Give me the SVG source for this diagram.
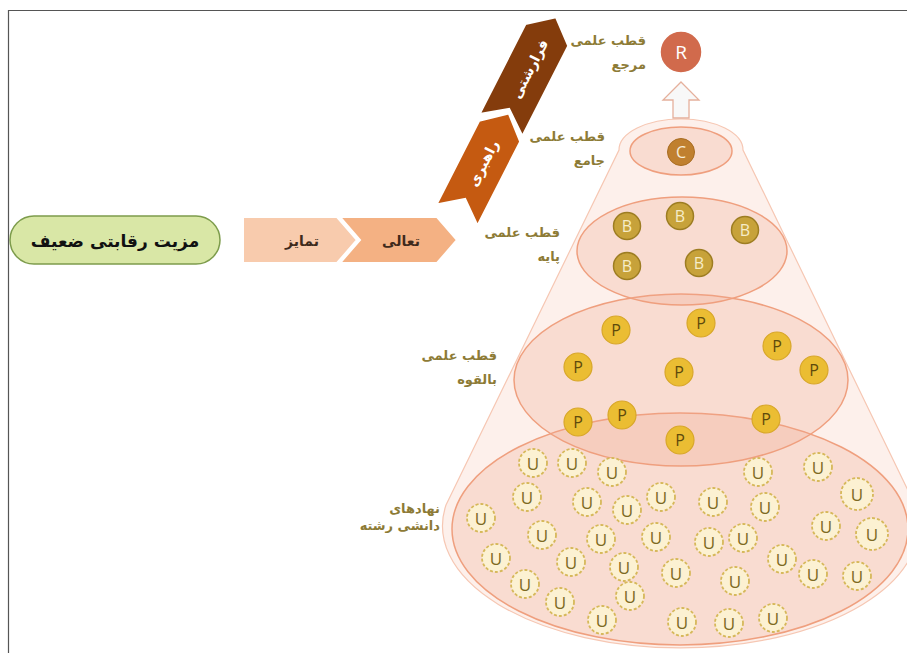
<svg xmlns="http://www.w3.org/2000/svg" width="907" height="653" viewBox="0 0 907 653">
<defs>
<style>
.ar{font-family:'DejaVu Sans','Noto Sans',sans-serif;font-weight:bold}
.lbl{font-size:13px;fill:#8d7b36;text-anchor:end}
.lt{font-family:'Open Sans','Liberation Sans',sans-serif;text-anchor:middle;dominant-baseline:central}
.ell{fill:#f0a88c;fill-opacity:0.27;stroke:#ef9f7e;stroke-width:1.5}
.u circle{fill:#fcf1d2;stroke:#d6b85a;stroke-width:1.8;stroke-dasharray:3 2}
.u text{font-size:17px;fill:#7d6a22}
.p circle{fill:#ebbd33;stroke:#d8a72a;stroke-width:1.2}
.p text{font-size:16px;fill:#5e4a0c}
.b circle{fill:#c7a23a;stroke:#9d7d22;stroke-width:1.5}
.b text{font-size:16px;fill:#f6ecc8}
</style>
</defs>
<rect width="907" height="653" fill="#ffffff"/>
<path d="M8.5,653 V10.5 H907" fill="none" stroke="#555" stroke-width="1.2"/>

<g id="cone">
<path d="M619,150 A62,31 0 0 1 743,150 L915,505 A238,122 0 1 1 446,505 Z" fill="#fdf0eb" stroke="#f6c7b3" stroke-width="1.2"/>
<ellipse class="ell" cx="680" cy="529" rx="228" ry="116"/>
<ellipse class="ell" cx="681" cy="380" rx="167" ry="86"/>
<ellipse class="ell" cx="682" cy="251" rx="105" ry="54"/>
<ellipse class="ell" cx="681" cy="151" rx="51" ry="24"/>
</g>

<g id="connectors">
<path d="M681,82 L699,100 L689,100 L689,118 L673,118 L673,100 L663,100 Z" fill="#f8f8f8" stroke="#e5b09c" stroke-width="1.3"/>
</g>

<g id="node-R">
<circle cx="681" cy="52" r="21" fill="#d16a4c" stroke="#ffffff" stroke-width="1.5"/>
<text class="lt" x="681" y="52" font-size="19" fill="#ffffff">R</text>
</g>
<g id="node-C">
<circle cx="681" cy="152" r="13.5" fill="#c0802f" stroke="#a86c22" stroke-width="1"/>
<text class="lt" x="681" y="152" font-size="16" fill="#f7ecd6">C</text>
</g>

<g id="nodes-B">
<g class="b" id="b1"><circle cx="627" cy="226" r="13.5"/><text class="lt" x="627" y="226">B</text></g>
<g class="b" id="b2"><circle cx="680" cy="216" r="13.5"/><text class="lt" x="680" y="216">B</text></g>
<g class="b" id="b3"><circle cx="745" cy="230" r="13.5"/><text class="lt" x="745" y="230">B</text></g>
<g class="b" id="b4"><circle cx="627" cy="266" r="13.5"/><text class="lt" x="627" y="266">B</text></g>
<g class="b" id="b5"><circle cx="699" cy="263" r="13.5"/><text class="lt" x="699" y="263">B</text></g>
</g>

<g id="nodes-P">
<g class="p" id="p1"><circle cx="616" cy="330" r="14"/><text class="lt" x="616" y="330">P</text></g>
<g class="p" id="p2"><circle cx="701" cy="323" r="14"/><text class="lt" x="701" y="323">P</text></g>
<g class="p" id="p3"><circle cx="777" cy="346" r="14"/><text class="lt" x="777" y="346">P</text></g>
<g class="p" id="p4"><circle cx="578" cy="367" r="14"/><text class="lt" x="578" y="367">P</text></g>
<g class="p" id="p5"><circle cx="679" cy="372" r="14"/><text class="lt" x="679" y="372">P</text></g>
<g class="p" id="p6"><circle cx="814" cy="370" r="14"/><text class="lt" x="814" y="370">P</text></g>
<g class="p" id="p7"><circle cx="578" cy="422" r="14"/><text class="lt" x="578" y="422">P</text></g>
<g class="p" id="p8"><circle cx="622" cy="415" r="14"/><text class="lt" x="622" y="415">P</text></g>
<g class="p" id="p9"><circle cx="766" cy="419" r="14"/><text class="lt" x="766" y="419">P</text></g>
<g class="p" id="p10"><circle cx="680" cy="440" r="14"/><text class="lt" x="680" y="440">P</text></g>
</g>

<g id="nodes-U">
<g class="u" id="u1"><circle cx="533" cy="463" r="14"/><text class="lt" x="533" y="463">U</text></g>
<g class="u" id="u2"><circle cx="572" cy="463" r="14"/><text class="lt" x="572" y="463">U</text></g>
<g class="u" id="u3"><circle cx="612" cy="472" r="14"/><text class="lt" x="612" y="472">U</text></g>
<g class="u" id="u4"><circle cx="758" cy="472" r="14"/><text class="lt" x="758" y="472">U</text></g>
<g class="u" id="u5"><circle cx="818" cy="467" r="14"/><text class="lt" x="818" y="467">U</text></g>
<g class="u" id="u6"><circle cx="527" cy="497" r="14"/><text class="lt" x="527" y="497">U</text></g>
<g class="u" id="u7"><circle cx="587" cy="502" r="14"/><text class="lt" x="587" y="502">U</text></g>
<g class="u" id="u8"><circle cx="627" cy="510" r="14"/><text class="lt" x="627" y="510">U</text></g>
<g class="u" id="u9"><circle cx="661" cy="497" r="14"/><text class="lt" x="661" y="497">U</text></g>
<g class="u" id="u10"><circle cx="713" cy="502" r="14"/><text class="lt" x="713" y="502">U</text></g>
<g class="u" id="u11"><circle cx="765" cy="507" r="14"/><text class="lt" x="765" y="507">U</text></g>
<g class="u" id="u12"><circle cx="857" cy="494" r="16"/><text class="lt" x="857" y="494">U</text></g>
<g class="u" id="u13"><circle cx="481" cy="518" r="14"/><text class="lt" x="481" y="518">U</text></g>
<g class="u" id="u14"><circle cx="542" cy="535" r="14"/><text class="lt" x="542" y="535">U</text></g>
<g class="u" id="u15"><circle cx="601" cy="539" r="14"/><text class="lt" x="601" y="539">U</text></g>
<g class="u" id="u16"><circle cx="656" cy="537" r="14"/><text class="lt" x="656" y="537">U</text></g>
<g class="u" id="u17"><circle cx="709" cy="542" r="14"/><text class="lt" x="709" y="542">U</text></g>
<g class="u" id="u18"><circle cx="743" cy="538" r="14"/><text class="lt" x="743" y="538">U</text></g>
<g class="u" id="u19"><circle cx="826" cy="526" r="14"/><text class="lt" x="826" y="526">U</text></g>
<g class="u" id="u20"><circle cx="872" cy="534" r="16"/><text class="lt" x="872" y="534">U</text></g>
<g class="u" id="u21"><circle cx="496" cy="558" r="14"/><text class="lt" x="496" y="558">U</text></g>
<g class="u" id="u22"><circle cx="571" cy="562" r="14"/><text class="lt" x="571" y="562">U</text></g>
<g class="u" id="u23"><circle cx="624" cy="567" r="14"/><text class="lt" x="624" y="567">U</text></g>
<g class="u" id="u24"><circle cx="676" cy="573" r="14"/><text class="lt" x="676" y="573">U</text></g>
<g class="u" id="u25"><circle cx="735" cy="581" r="14"/><text class="lt" x="735" y="581">U</text></g>
<g class="u" id="u26"><circle cx="782" cy="559" r="14"/><text class="lt" x="782" y="559">U</text></g>
<g class="u" id="u27"><circle cx="813" cy="574" r="14"/><text class="lt" x="813" y="574">U</text></g>
<g class="u" id="u28"><circle cx="857" cy="576" r="14"/><text class="lt" x="857" y="576">U</text></g>
<g class="u" id="u29"><circle cx="525" cy="584" r="14"/><text class="lt" x="525" y="584">U</text></g>
<g class="u" id="u30"><circle cx="630" cy="596" r="14"/><text class="lt" x="630" y="596">U</text></g>
<g class="u" id="u31"><circle cx="560" cy="602" r="14"/><text class="lt" x="560" y="602">U</text></g>
<g class="u" id="u32"><circle cx="602" cy="620" r="14"/><text class="lt" x="602" y="620">U</text></g>
<g class="u" id="u33"><circle cx="682" cy="622" r="14"/><text class="lt" x="682" y="622">U</text></g>
<g class="u" id="u34"><circle cx="729" cy="623" r="14"/><text class="lt" x="729" y="623">U</text></g>
<g class="u" id="u35"><circle cx="773" cy="618" r="14"/><text class="lt" x="773" y="618">U</text></g>
</g>

<g id="labels">
<g id="label-R"><text class="ar lbl" x="646" y="45">قطب علمی</text><text class="ar lbl" x="646" y="69">مرجع</text></g>
<g id="label-C"><text class="ar lbl" x="605" y="141">قطب علمی</text><text class="ar lbl" x="605" y="165">جامع</text></g>
<g id="label-B"><text class="ar lbl" x="560" y="237">قطب علمی</text><text class="ar lbl" x="560" y="261">پایه</text></g>
<g id="label-P"><text class="ar lbl" x="497" y="360">قطب علمی</text><text class="ar lbl" x="497" y="384">بالقوه</text></g>
<g id="label-U"><text class="ar lbl" x="440" y="513">نهادهای</text><text class="ar lbl" x="440" y="530">دانشی رشته</text></g>
</g>

<g id="node-weak">
<rect x="10" y="216" width="210" height="48" rx="24" fill="#d9e7a6" stroke="#7d9c4c" stroke-width="1.5"/>
<text class="ar" x="115" y="247" font-size="17" text-anchor="middle" fill="#111">مزیت رقابتی ضعیف</text>
</g>

<g id="node-tamayoz">
<polygon points="243,217 337,217 357,240 337,263 243,263" fill="#f8cbad" stroke="#ffffff" stroke-width="2"/>
<text class="ar" x="302" y="246" font-size="14" text-anchor="middle" fill="#3f2a1c">تمایز</text>
</g>
<g id="node-taali">
<polygon points="340,217 437,217 457,240 437,263 340,263 360,240" fill="#f4b183" stroke="#ffffff" stroke-width="2"/>
<text class="ar" x="401" y="246" font-size="14" text-anchor="middle" fill="#3f2a1c">تعالی</text>
</g>
<g id="node-rahbari" transform="translate(457,215) rotate(-63)">
<polygon points="0,-23 94,-23 114,0 94,23 0,23 18,0" fill="#c55a11" stroke="#ffffff" stroke-width="2"/>
<text class="ar" x="58" y="5" font-size="14" text-anchor="middle" fill="#ffffff">راهبری</text>
</g>
<g id="node-fararashti" transform="translate(501,125) rotate(-63)">
<polygon points="0,-24 101,-24 121,0 101,24 0,24 18,0" fill="#843c0c" stroke="#ffffff" stroke-width="2"/>
<text class="ar" x="63" y="5" font-size="14" text-anchor="middle" fill="#ffffff">فرارشتی</text>
</g>
</svg>
